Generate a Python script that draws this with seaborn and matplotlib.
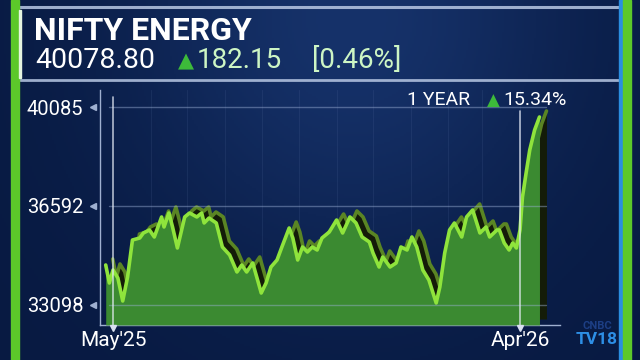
import numpy as np
import pandas as pd
import matplotlib
matplotlib.use("Agg")
import matplotlib.pyplot as plt
import matplotlib.transforms as mtransforms
import matplotlib.dates as mdates
from matplotlib.patches import Rectangle
from matplotlib.lines import Line2D
import seaborn as sns

# ---------------- data ----------------
dates = ["2025-04-25", "2025-04-28", "2025-05-01", "2025-05-05", "2025-05-09", "2025-05-13",
         "2025-05-17", "2025-05-23", "2025-05-26", "2025-05-31", "2025-06-04", "2025-06-10",
         "2025-06-12", "2025-06-16", "2025-06-19", "2025-06-23", "2025-06-29", "2025-07-03",
         "2025-07-09", "2025-07-13", "2025-07-15", "2025-07-19", "2025-07-25", "2025-07-30",
         "2025-08-05", "2025-08-11", "2025-08-15", "2025-08-19", "2025-08-24", "2025-08-28",
         "2025-08-31", "2025-09-04", "2025-09-08", "2025-09-13", "2025-09-17", "2025-09-23",
         "2025-09-26", "2025-09-30", "2025-10-04", "2025-10-08", "2025-10-12", "2025-10-16",
         "2025-10-20", "2025-10-26", "2025-11-01", "2025-11-06", "2025-11-12", "2025-11-17",
         "2025-11-22", "2025-11-28", "2025-12-01", "2025-12-06", "2025-12-09", "2025-12-15",
         "2025-12-20", "2025-12-24", "2025-12-29", "2026-01-02", "2026-01-06", "2026-01-11",
         "2026-01-16", "2026-01-22", "2026-01-25", "2026-01-29", "2026-02-02", "2026-02-06",
         "2026-02-12", "2026-02-16", "2026-02-21", "2026-02-27", "2026-03-04", "2026-03-07",
         "2026-03-13", "2026-03-15", "2026-03-19", "2026-03-23", "2026-03-26", "2026-03-29",
         "2026-04-01", "2026-04-03", "2026-04-06", "2026-04-09", "2026-04-13", "2026-04-17"]
values = [34510, 33874, 34333, 34051, 33239, 34086,
          35392, 35462, 35639, 35745, 35498, 36204,
          35851, 36345, 35851, 35110, 36204, 36345,
          36204, 36345, 35992, 36168, 35992, 35145,
          34863, 34263, 34510, 34263, 34580, 33980,
          33521, 33874, 34439, 34686, 35145, 35815,
          35462, 34686, 35145, 34968, 35145, 35039,
          35462, 35674, 36098, 35639, 36204, 35992,
          35498, 35321, 34933, 34439, 34792, 34439,
          34580, 35145, 35039, 35498, 35145, 34333,
          33980, 33169, 33733, 34933, 35745, 35992,
          35498, 36204, 36451, 35639, 35851, 35498,
          35745, 35745, 35286, 35039, 35286, 35110,
          35745, 36909, 37756, 38568, 39274, 39733]

ytick_values = [33098, 36592, 40085]
xtick_dates = ["2025-05-01", "2026-04-01"]
xtick_labels = ["May'25", "Apr'26"]

title = "NIFTY ENERGY"
last_price = "40078.80"
change_abs = "182.15"
change_pct = "[0.46%]"
period_label = "1 YEAR"
period_change = "15.34%"

# ---------------- style ----------------
sns.set_style("dark", {"axes.facecolor": "none", "figure.facecolor": "#0a1a40"})
plt.rcParams["font.family"] = ["Roboto", "DejaVu Sans"]

W, H = 640, 360
fig = plt.figure(figsize=(6.4, 3.6), dpi=100)
fig.patch.set_facecolor("#0a1a40")


def fx(x):
    return x / W


def fy(y):
    return 1 - y / H


# background gradient
bg = fig.add_axes([0, 0, 1, 1], zorder=-10)
gx = np.linspace(0, 1, 320)
gy = np.linspace(0, 1, 180)
GX, GY = np.meshgrid(gx, gy)
glow = np.exp(-((GX - 0.55) ** 2 / 0.12 + (GY - 0.05) ** 2 / 0.45))
base = np.array([8, 26, 66]) / 255
hl = np.array([22, 50, 106]) / 255
img = base[None, None, :] + glow[:, :, None] * (hl - base)[None, None, :]
bg.imshow(img, extent=[0, 1, 0, 1], aspect="auto", origin="upper")
bg.set_xlim(0, 1)
bg.set_ylim(0, 1)
bg.axis("off")

# header lines
for yy, lw in [(7, 2.2), (80, 2.0)]:
    fig.add_artist(Line2D([fx(20), fx(621)], [fy(yy), fy(yy)], color="#b8c8e4", lw=lw, alpha=0.85))

# side bars
fig.add_artist(Rectangle((fx(11), 0), fx(8), 1, color="#5cc82a", zorder=5))
fig.add_artist(Rectangle((fx(19), fy(78)), fx(2), fy(10) - fy(78), color="#e6f5e0", zorder=6))
fig.add_artist(Rectangle((fx(619), 0), fx(4), 1, color="#2a8ee0", zorder=5))
fig.add_artist(Rectangle((fx(623), 0), fx(8), 1, color="#5cc82a", zorder=5))

# ---------------- chart ----------------
ax = fig.add_axes([fx(100), fy(325), (560 - 100) / W, (325 - 90) / H])
ax.set_facecolor("none")
x = pd.to_datetime(dates)
ymin, ymax = 32392, 40685
ax.set_ylim(ymin, ymax)
x0 = pd.Timestamp("2025-05-01")
ax.set_xlim(x0 - pd.Timedelta(days=10.7), x0 + pd.Timedelta(days=367.9))

# faint vertical grid
for d in pd.date_range("2025-05-15", "2026-04-15", freq="MS"):
    ax.axvline(d, color="#6f86b8", lw=0.8, alpha=0.12, zorder=1)

# 3D back face
off = mtransforms.offset_copy(ax.transData, fig=fig, x=7, y=6, units="dots")
ax.fill_between(x, values, ymin, color="#141c08", transform=off, zorder=2, lw=0)
ax.plot(x, values, color="#5a8524", lw=2.6, transform=off, zorder=2)

# front
ax.fill_between(x, values, ymin, color="#3b8a31", zorder=3, lw=0)
sns.lineplot(x=x, y=values, ax=ax, color="#8fe43c", lw=2.6, zorder=4)

# grid lines
for v in ytick_values:
    ax.axhline(v, xmin=0.02, xmax=0.97, color="#9cb0d6", lw=1, alpha=0.45, zorder=5)

# date marker lines
ax.axvline(pd.Timestamp(xtick_dates[0]), ymin=0.0, ymax=0.97, color="#e8eef8", lw=1.2, alpha=0.75, zorder=5)
ax.axvline(pd.Timestamp(xtick_dates[1]), ymin=0.0, ymax=0.91, color="#e8eef8", lw=1.2, alpha=0.75, zorder=5)

# spines
for s in ["top", "right"]:
    ax.spines[s].set_visible(False)
for s in ["left", "bottom"]:
    ax.spines[s].set_visible(True)
    ax.spines[s].set_color("#9fb0d0")
    ax.spines[s].set_linewidth(1)

ax.set_yticks(ytick_values)
ax.set_yticklabels([f"{v}" for v in ytick_values])
ax.set_yticks(np.arange(ytick_values[0], ymax, (ytick_values[1] - ytick_values[0]) / 5), minor=True)
ax.tick_params(axis="y", which="major", direction="in", length=7, color="#c0cce4",
               labelcolor="white", labelsize=14.5, pad=12)
ax.tick_params(axis="y", which="minor", direction="in", length=6, color="#c0cce4")

ax.set_xticks(pd.to_datetime(xtick_dates))
ax.set_xticklabels(xtick_labels)
ax.xaxis.set_minor_locator(mdates.DayLocator(bymonthday=[1, 13, 25]))
ax.tick_params(axis="x", which="major", direction="in", length=6, color="#c0cce4",
               labelcolor="white", labelsize=15, pad=4)
ax.tick_params(axis="x", which="minor", direction="in", length=5, color="#8fa2c8")
ax.set_xlabel("")
ax.set_ylabel("")
ax.grid(False)

# axis pointer triangles
ytr = mtransforms.blended_transform_factory(ax.transAxes, ax.transData)
ax.plot([-0.015] * 3, ytick_values, ls="none", marker="<", ms=5, color="#9fb0d0",
        transform=ytr, clip_on=False, zorder=6)
xtr = mtransforms.blended_transform_factory(ax.transData, ax.transAxes)
ax.plot(pd.to_datetime(xtick_dates), [-0.012] * 2, ls="none", marker="v", ms=4.5, color="#d8e0f0",
        transform=xtr, clip_on=False, zorder=6)

# ---------------- text ----------------
fig.text(fx(34), fy(31), title, fontsize=23, weight="bold", color="white", va="center", ha="left")
fig.text(fx(35), fy(61), last_price, fontsize=20.5, color="white", va="center", ha="left")
fig.text(fx(178), fy(62), "\u25B2", fontsize=15, color="#3dba3a", va="center", ha="left")
fig.text(fx(197), fy(61), change_abs, fontsize=20, color="#cdf5c4", va="center", ha="left")
fig.text(fx(312), fy(61), change_pct, fontsize=20, color="#cdf5c4", va="center", ha="left")

fig.text(fx(407), fy(100), period_label, fontsize=14, color="white", va="center", ha="left")
fig.text(fx(487), fy(101), "\u25B2", fontsize=12, color="#3dba3a", va="center", ha="left")
fig.text(fx(503), fy(100), period_change, fontsize=14, color="white", va="center", ha="left")

fig.text(fx(597), fy(326), "CNBC", fontsize=8, weight="bold", color="#1d3f85", va="center", ha="center")
fig.text(fx(597), fy(340), "TV18", fontsize=12.5, weight="bold", color="#2d8fe6", va="center", ha="center")

fig.savefig("out.png", dpi=100, facecolor=fig.get_facecolor())
